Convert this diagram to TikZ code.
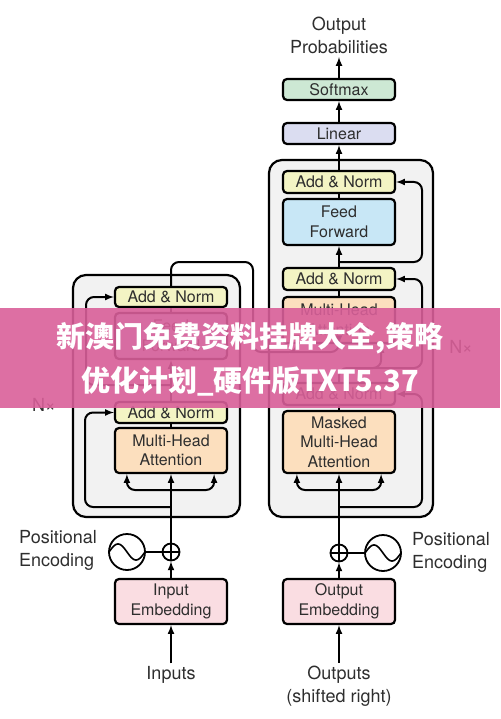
\documentclass[tikz,border=0pt]{standalone}
\usepackage{fontspec}
\setmainfont{TeX Gyre Heros}
\newfontfamily\cjk{Noto Sans CJK SC}
\usetikzlibrary{arrows}

\definecolor{normcol}{HTML}{F3F4C4}
\definecolor{ffcol}{HTML}{C8E7F6}
\definecolor{attcol}{HTML}{FCDFBE}
\definecolor{embcol}{HTML}{FADDE2}
\definecolor{lincol}{HTML}{DBDDF1}
\definecolor{softcol}{HTML}{CDE8D4}
\definecolor{stackcol}{HTML}{F2F2F2}
\definecolor{txtcol}{HTML}{2E2E2E}
\definecolor{bannercol}{HTML}{D95F99}

\tikzset{
  block/.style={draw, line width=2.2pt, rounded corners=4pt, minimum width=112pt,
    inner sep=0pt, align=center, text=txtcol, font=\fontsize{16}{19.5}\selectfont},
  stackbox/.style={draw, fill=stackcol, line width=2.2pt, rounded corners=13pt},
  outtext/.style={align=center, inner sep=3pt, text=txtcol, font=\fontsize{18}{23}\selectfont},
  flow/.style={line width=2pt, -latex, rounded corners=8pt},
  link/.style={line width=2pt, rounded corners=8pt},
  plus/.style={circle, draw, line width=1.8pt, minimum size=17pt, inner sep=0pt},
  wave/.style={circle, draw, line width=1.8pt, minimum size=36pt, inner sep=0pt},
  bannertext/.style={text=white, inner sep=0pt, font=\cjk\bfseries\fontsize{29}{36}\selectfont}
}

\begin{document}
\begin{tikzpicture}[x=1pt,y=-1pt]
  \useasboundingbox (0,0) rectangle (500,719);

  % stacks
  \draw[stackbox] (73,275) rectangle (240,517);
  \draw[stackbox] (269,160) rectangle (433,517);

  % encoder
  \node[block, fill=normcol, minimum height=20pt] (encAddTop) at (171,297) {Add \& Norm};
  \node[block, fill=ffcol, minimum height=46pt] (encFF) at (171,336) {Feed\\Forward};
  \node[block, fill=normcol, minimum height=21pt] (encAddLow) at (171,412.5) {Add \& Norm};
  \node[block, fill=attcol, minimum height=45pt] (encMHA) at (171,450.5) {Multi-Head\\Attention};
  \node[plus] (encPlus) at (171,552) {};
  \node[wave] (encWave) at (127,552) {};
  \node[block, fill=embcol, minimum height=45pt] (inEmb) at (171,601.5) {Input\\Embedding};
  \node[outtext] (inputs) at (171,675) {Inputs};
  \node[outtext, align=left] (encPE) at (58,550) {Positional\\Encoding};
  \node[outtext] (encN) at (44,405) {N×};

  % decoder
  \node[block, fill=softcol, minimum height=21pt] (softmax) at (339,89.5) {Softmax};
  \node[block, fill=lincol, minimum height=21pt] (linear) at (339,133.5) {Linear};
  \node[block, fill=normcol, minimum height=22pt] (decAddTop) at (339,182) {Add \& Norm};
  \node[block, fill=ffcol, minimum height=46pt] (decFF) at (339,222) {Feed\\Forward};
  \node[block, fill=normcol, minimum height=22pt] (decAddMid) at (339,279) {Add \& Norm};
  \node[block, fill=attcol, minimum height=46pt] (decMHA) at (339,320) {Multi-Head\\Attention};
  \node[block, fill=normcol, minimum height=22pt] (decAddLow) at (339,394) {Add \& Norm};
  \node[block, fill=attcol, minimum height=62pt] (decMMHA) at (339,442) {Masked\\Multi-Head\\Attention};
  \node[plus] (decPlus) at (339,553) {};
  \node[wave] (decWave) at (383,553) {};
  \node[block, fill=embcol, minimum height=45pt] (outEmb) at (339,601.5) {Output\\Embedding};
  \node[outtext] (outputs) at (339,686) {Outputs\\(shifted right)};
  \node[outtext] (probs) at (339,35.5) {Output\\Probabilities};
  \node[outtext, align=left] (decPE) at (451,552) {Positional\\Encoding};
  \node[outtext] (decN) at (461,347) {N×};

  % plus signs and waves
  \draw[line width=1.6pt] (encPlus.west) -- (encPlus.east) (encPlus.north) -- (encPlus.south);
  \draw[line width=1.6pt] (decPlus.west) -- (decPlus.east) (decPlus.north) -- (decPlus.south);
  \draw[line width=1.6pt, shift={(encWave.center)}] plot[domain=-18:18, samples=50] (\x, {-8*sin(10*(\x+18))});
  \draw[line width=1.6pt, shift={(decWave.center)}] plot[domain=-18:18, samples=50] (\x, {-8*sin(10*(\x+18))});

  % encoder connectors
  \draw[flow] (inputs) -- (inEmb);
  \draw[flow] (inEmb) -- (encPlus);
  \draw[flow] (encPlus) -- (encMHA);
  \draw[link] (encWave) -- (encPlus);
  \coordinate (encFork) at (171,490);
  \draw[flow] (encFork) -| ([xshift=13pt]encMHA.south west);
  \draw[flow] (encFork) -| ([xshift=-14pt]encMHA.south east);
  \draw[flow] (171,507) -- (85,507) |- (encAddLow.west);
  \draw[link] (encMHA) -- (encAddLow);
  \draw[flow] (encAddLow) -- (encFF);
  \draw[flow] (171,385) -- (86,385) |- (encAddTop.west);
  \draw[link] (encFF) -- (encAddTop);

  % encoder output into decoder
  \draw[flow] (encAddTop.north) -- (171,262) -- (253,262) -- (253,352) -| ([xshift=15pt]decMHA.south west);
  \draw[flow] (290,352) -| (decMHA.south);

  % decoder connectors
  \draw[flow] (outputs) -- (outEmb);
  \draw[flow] (outEmb) -- (decPlus);
  \draw[flow] (decPlus) -- (decMMHA);
  \draw[link] (decWave) -- (decPlus);
  \coordinate (decFork) at (339,490);
  \draw[flow] (decFork) -| ([xshift=15pt]decMMHA.south west);
  \draw[flow] (decFork) -| ([xshift=-15pt]decMMHA.south east);
  \draw[flow] (339,507) -- (422,507) |- (decAddLow.east);
  \draw[link] (decMMHA) -- (decAddLow);
  \draw[flow] (decAddLow.north) -- (339,368) -| ([xshift=-15pt]decMHA.south east);
  \draw[flow] (370,368) -- (422,368) |- (decAddMid.east);
  \draw[link] (decMHA) -- (decAddMid);
  \draw[flow] (decAddMid) -- (decFF);
  \draw[flow] (339,262) -- (422,262) |- (decAddTop.east);
  \draw[link] (decFF) -- (decAddTop);
  \draw[flow] (decAddTop) -- (linear);
  \draw[flow] (linear) -- (softmax);
  \draw[flow] (softmax) -- (probs);

  % banner
  \fill[bannercol, opacity=0.9] (0,308) rectangle (500,408);
  \node[bannertext] (bannerTop) at (250,338) {新澳门免费资料挂牌大全,策略};
  \node[bannertext] (bannerLow) at (250,381) {优化计划\_硬件版TXT5.37};
\end{tikzpicture}
\end{document}
